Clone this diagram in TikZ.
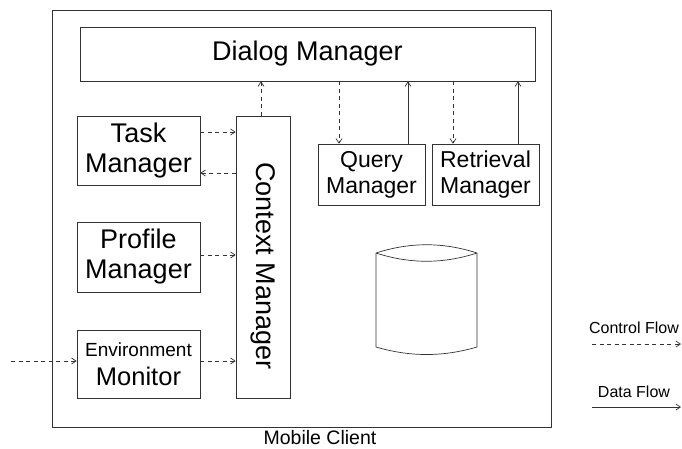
\documentclass[tikz,border=0pt]{standalone}
\usepackage{fontspec}
\setmainfont{Liberation Sans}
\usetikzlibrary{arrows.meta}
\begin{document}
\begin{tikzpicture}[x=1pt,y=-1pt,
  ln/.style={line width=0.7pt,draw=black!80},
  box/.style={ln,rectangle,inner sep=0pt,align=center},
  big/.style={font=\fontsize{27}{30}\selectfont},
  mid/.style={font=\fontsize{23}{26}\selectfont},
  ctl/.style={ln,dash pattern=on 4pt off 3.5pt,-{Straight Barb[length=4.5pt,width=6pt]}},
  dat/.style={ln,-{Straight Barb[length=4.5pt,width=6pt]}}]
\useasboundingbox (0,0) rectangle (682,448);
% outer frame
\node[box,minimum width=499pt,minimum height=417pt] (mc) at (301.5,218.5) {};
\node[font=\fontsize{19.5}{22}\selectfont] (mclbl) at (320,438) {Mobile Client};
% boxes
\node[box,big,minimum width=455pt,minimum height=54pt] (dlg) at (307.5,54) {Dialog Manager};
\node[box,big,minimum width=123pt,minimum height=69pt] (task) at (138.5,150.5) {Task\\Manager};
\node[box,big,minimum width=123pt,minimum height=70pt] (prof) at (138.5,257) {Profile\\Manager};
\node[box,minimum width=123pt,minimum height=68pt] (env) at (138.5,364) {};
\node[font=\fontsize{19}{22}\selectfont] (envt1) at (138.5,350) {Environment};
\node[font=\fontsize{25.5}{30}\selectfont] (envt2) at (138.5,376) {Monitor};
\node[box,minimum width=54pt,minimum height=282pt] (ctx) at (263,257) {};
\node[big,rotate=-90] (ctxt) at (263,266) {Context Manager};
\node[box,mid,minimum width=107pt,minimum height=61pt] (qry) at (371.5,174.5) {Query\\Manager};
\node[box,mid,minimum width=107pt,minimum height=61pt] (ret) at (485.5,174.5) {Retrieval\\Manager};
% database cylinder
\draw[ln] (376,253) .. controls (410,242) and (443,242) .. (477,253)
          (376,253) .. controls (410,264) and (443,264) .. (477,253)
          (376,253) -- (376,347) .. controls (410,357) and (443,357) .. (477,347) -- (477,253);
% connectors
\draw[ctl] ([xshift=-2pt]ctx.north) -- ([xshift=-2pt]ctx.north |- dlg.south);
\draw[ctl] ([yshift=18.5pt]task.east) -- ([yshift=18.5pt]task.east -| ctx.west);
\draw[ctl] ([yshift=-22.5pt]task.east -| ctx.west) -- ([yshift=-22.5pt]task.east);
\draw[ctl] ([yshift=2pt]prof.east) -- ([yshift=2pt]prof.east -| ctx.west);
\draw[ctl] ([yshift=3pt]env.east) -- ([yshift=3pt]env.east -| ctx.west);
\coordinate (ext) at (11,361);
\draw[ctl] (ext) -- (ext -| env.west);
\draw[ctl] ([xshift=-32.5pt]qry.north |- dlg.south) -- ([xshift=-32.5pt]qry.north);
\draw[dat] ([xshift=36.5pt]qry.north) -- ([xshift=36.5pt]qry.north |- dlg.south);
\draw[ctl] ([xshift=-32.5pt]ret.north |- dlg.south) -- ([xshift=-32.5pt]ret.north);
\draw[dat] ([xshift=32.5pt]ret.north) -- ([xshift=32.5pt]ret.north |- dlg.south);
% legend
\node[font=\fontsize{16}{19}\selectfont] (cfl) at (634,328) {Control Flow};
\coordinate (cf1) at (592,344);
\coordinate (cf2) at (681,344);
\draw[ctl] (cf1) -- (cf2);
\node[font=\fontsize{16}{19}\selectfont] (dfl) at (634,392) {Data Flow};
\coordinate (df1) at (592,407);
\coordinate (df2) at (681,407);
\draw[dat] (df1) -- (df2);
\end{tikzpicture}
\end{document}
